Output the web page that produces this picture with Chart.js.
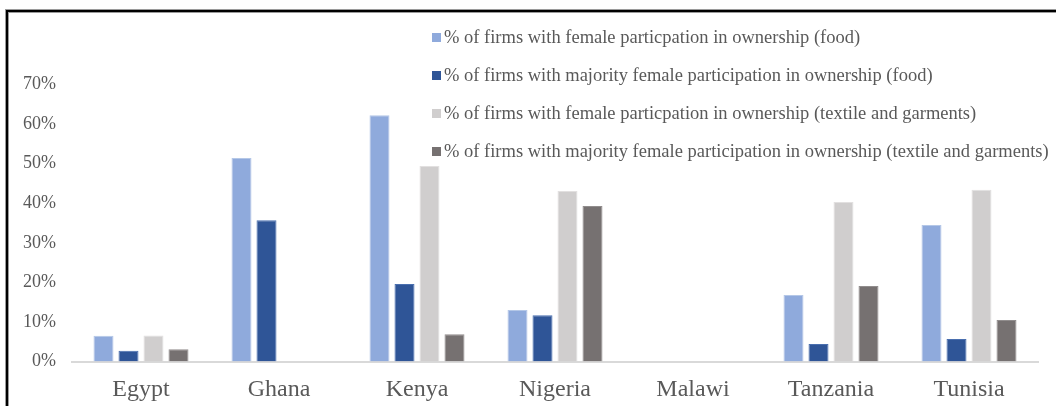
<!DOCTYPE html>
<html>
<head>
<meta charset="utf-8">
<script src="https://cdn.jsdelivr.net/npm/chart.js@4.4.1/dist/chart.umd.min.js"></script>
<style>
  html, body { margin: 0; padding: 0; background: #fff; }
  #wrap { position: relative; width: 1056px; height: 406px; overflow: hidden; }
  #frame { position: absolute; left: 6px; top: 10px; width: 1100px; height: 450px;
           border-top: 2px solid #000; border-left: 2px solid #000;
           box-shadow: -1px -1px 0 #9a9a9a, inset 1px 1px 0 #9a9a9a; pointer-events: none; }
  #c { position: absolute; left: 0; top: 0; }
  #legend { position: absolute; left: 432px; top: 18px; font-family: "Liberation Serif", "Times New Roman", serif;
            font-size: 18.5px; color: #595959; }
  .li { height: 38.2px; display: flex; align-items: center; white-space: nowrap; }
  .sw { width: 9px; height: 9px; margin-right: 3px; flex: none; }
</style>
</head>
<body>
<div id="wrap">
  <canvas id="c" width="1056" height="406"></canvas>
  <div id="frame"></div>
  <div id="legend"></div>
</div>
<script>
const categories = ["Egypt", "Ghana", "Kenya", "Nigeria", "Malawi", "Tanzania", "Tunisia"];
const seriesNames = [
  "% of firms with female particpation in ownership (food)",
  "% of firms with majority female participation in ownership (food)",
  "% of firms with female particpation in ownership (textile and garments)",
  "% of firms with majority female participation in ownership (textile and garments)"
];
const femaleFood = [6.5, 51.4, 62.2, 13.0, 0, 16.8, 34.5];
const majorityFemaleFood = [2.7, 35.7, 19.6, 11.7, 0, 4.4, 5.7];
const femaleTextile = [6.6, 0, 49.4, 43.1, 0, 40.3, 43.4];
const majorityFemaleTextile = [3.1, 0, 6.9, 39.3, 0, 19.1, 10.5];
const yTicks = [0, 10, 20, 30, 40, 50, 60, 70];

const colors = ["#8FAADC", "#2F5597", "#D0CECE", "#767171"];
const borders = ["#B4C7E7", "#4A6FAF", "#E2E0E0", "#918D8D"];
const seriesData = [femaleFood, majorityFemaleFood, femaleTextile, majorityFemaleTextile];

const datasets = seriesData.map((d, i) => ({
  label: seriesNames[i],
  data: d,
  backgroundColor: colors[i],
  borderColor: borders[i],
  borderWidth: 1,
  categoryPercentage: 0.7246,
  barPercentage: 0.8
}));

const serif = '"Liberation Serif", "Times New Roman", serif';

const chart = new Chart(document.getElementById('c'), {
  type: 'bar',
  data: { labels: categories, datasets },
  options: {
    responsive: false,
    animation: false,
    devicePixelRatio: 1,
    layout: { padding: { left: 12, right: 18, top: 84.5, bottom: 2.5 } },
    plugins: { legend: { display: false }, tooltip: { enabled: false } },
    scales: {
      x: {
        grid: { display: false, drawTicks: false },
        border: { display: true, color: '#D9D9D9', width: 2 },
        ticks: { color: '#595959', font: { family: serif, size: 24 }, padding: 14, maxRotation: 0 },
        afterFit: s => { s.height = 42; }
      },
      y: {
        min: 0, max: 70,
        afterBuildTicks: s => { s.ticks = yTicks.map(v => ({ value: v })); },
        grid: { display: false, drawTicks: false },
        border: { display: false },
        ticks: { color: '#595959', font: { family: serif, size: 18 }, padding: 16, callback: v => v + '%' },
        afterFit: s => { s.width = 60; }
      }
    }
  }
});

const lg = document.getElementById('legend');
chart.data.datasets.forEach(ds => {
  const row = document.createElement('div');
  row.className = 'li';
  const sw = document.createElement('span');
  sw.className = 'sw';
  sw.style.background = ds.backgroundColor;
  const tx = document.createElement('span');
  tx.textContent = ds.label;
  row.appendChild(sw); row.appendChild(tx);
  lg.appendChild(row);
});
</script>
</body>
</html>
